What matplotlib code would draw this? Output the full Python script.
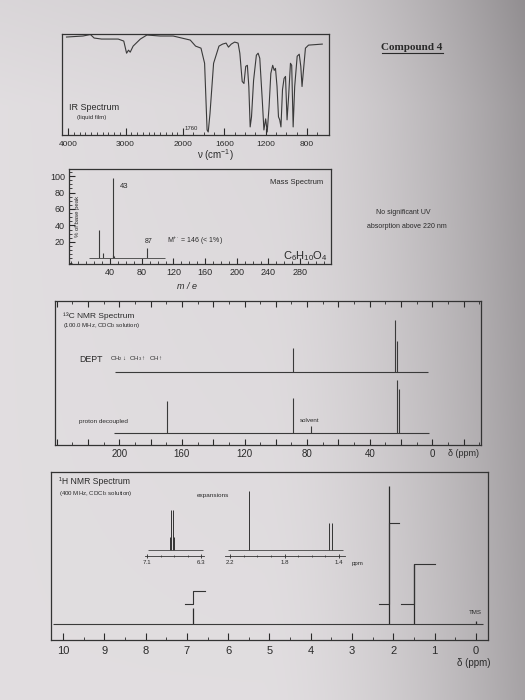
import numpy as np
import matplotlib
matplotlib.use('Agg')
import matplotlib.pyplot as plt
from matplotlib.ticker import MultipleLocator, FixedLocator, FuncFormatter
from matplotlib.lines import Line2D

plt.rcParams['font.family'] = ['Liberation Sans', 'DejaVu Sans']
plt.rcParams['mathtext.fontset'] = 'custom'
plt.rcParams['mathtext.rm'] = 'Liberation Sans'
plt.rcParams['mathtext.it'] = 'Liberation Sans:italic'
plt.rcParams['mathtext.bf'] = 'Liberation Sans:bold'

# ---------------- data ----------------
ir_wavenumber = [4030, 3742, 3613, 3548, 3419, 3129, 3032, 2983, 2949, 2920, 2869, 2743,
                 2629, 2400, 2171, 1930, 1878, 1826, 1791, 1767, 1756, 1739, 1704, 1652,
                 1617, 1583, 1560, 1533, 1500, 1467, 1450, 1427, 1410, 1393, 1377, 1363,
                 1350, 1337, 1317, 1290, 1273, 1257, 1233, 1217, 1200, 1185, 1167, 1150,
                 1132, 1117, 1105, 1090, 1076, 1064, 1052, 1037, 1022, 1008, 993, 978,
                 960, 948, 934, 919, 895, 875, 860, 848, 815, 785, 652]
ir_transmittance = [97, 98, 99.5, 96, 95, 95, 93, 81, 84, 82, 88, 95,
                    99, 98, 98, 94, 88, 86, 71, 5, 3, 21, 71, 88,
                    90, 91, 87, 90, 92, 91, 81, 53, 51, 68, 69, 48,
                    8, 18, 54, 79, 81, 76, 35, 5, 16, 3, 28, 61,
                    69, 64, 66, 48, 18, 15, 8, 45, 56, 58, 15, 38,
                    71, 69, 8, 48, 78, 80, 68, 48, 86, 89, 90]
ir_tick_values = [4000, 3000, 2000, 1600, 1200, 800]

ms_mz = [26, 31, 43, 44, 45, 87]
ms_intensity = [34, 7, 98, 4, 3, 13]
ms_baseline_range = [13, 109]
ms_ticks = [40, 80, 120, 160, 200, 240, 280]
ms_yticks = [20, 40, 60, 80, 100]

c13_decoupled_shift = [169.5, 89.0, 77.5, 22.6, 21.1]
c13_decoupled_height = [32, 35, 6.5, 53, 44]
c13_decoupled_range = [203.5, 2.0]
c13_dept_shift = [89.0, 23.8, 22.6]
c13_dept_height = [24, 52, 31]
c13_dept_range = [203.0, 3.0]

h1_shift = [6.85, 2.10, 1.50, 0.00]
h1_height = [16, 138, 60, 3]
h1_baseline_range = [10.25, -0.17]
h1_integral_H = [1, 6, 3]
h1_integral_shift = [6.85, 2.10, 1.50]
h1_integral_start = [7.05, 2.35, 1.82]
h1_integral_end = [6.56, 1.86, 0.99]

exp1_shift = [6.76, 6.74, 6.72, 6.70]
exp1_height = [13, 40, 40, 13]
exp1_range = [7.085, 6.27]
exp1_labels = [7.1, 6.3]
exp2_shift = [2.06, 1.47, 1.455]
exp2_height = [59, 27, 27]
exp2_range = [2.215, 1.37]
exp2_labels = [2.2, 1.8, 1.4]

# ---------------- figure ----------------
W, H = 525, 700
INK = '#2a2a2a'
fig = plt.figure(figsize=(W / 100, H / 100), dpi=100)

# paper background (photo shading)
bg = fig.add_axes([0, 0, 1, 1])
bg.axis('off')
gx, gy = np.meshgrid(np.linspace(0, 1, 210), np.linspace(0, 1, 280))
s = 0.875 - 0.23 * np.clip((gx - 0.5) / 0.5, 0, 1) ** 1.7 - 0.05 * (1 - gy) * gx \
    - 0.03 * np.clip((0.15 - gy) / 0.15, 0, 1)
rgb = np.dstack([s + 0.008, s - 0.006, s + 0.004]).clip(0, 1)
bg.imshow(rgb, extent=[0, 1, 0, 1], aspect='auto', origin='upper')
bg.set_xlim(0, 1)
bg.set_ylim(0, 1)


def px_axes(left, top, right, bottom):
    a = fig.add_axes([left / W, 1 - bottom / H, (right - left) / W, (bottom - top) / H])
    a.set_facecolor('none')
    for sp in a.spines.values():
        sp.set_color('#333333')
        sp.set_linewidth(0.9)
    return a


def ftext(x, y, s, **kw):
    kw.setdefault('color', INK)
    kw.setdefault('ha', 'left')
    kw.setdefault('va', 'center')
    return fig.text(x / W, 1 - y / H, s, **kw)


# ---------------- IR ----------------
def ir_fwd(w):
    w = np.asarray(w, dtype=float)
    return np.where(w >= 2000, 1000 + (w - 2000) / 1.8, w - 1000)


def ir_inv(u):
    u = np.asarray(u, dtype=float)
    return np.where(u >= 1000, 2000 + (u - 1000) * 1.8, u + 1000)


ax = px_axes(62, 34, 329, 135)
ax.set_xscale('function', functions=(ir_fwd, ir_inv))
ax.plot(ir_wavenumber, ir_transmittance, color='#3a3a3a', lw=0.8)
ax.set_xlim(4108, 587)
ax.set_ylim(0, 100)
ax.set_yticks([])
ax.xaxis.set_major_locator(FixedLocator(ir_tick_values))
ax.xaxis.set_minor_locator(FixedLocator(list(range(700, 4001, 100))))
ax.xaxis.set_major_formatter(FuncFormatter(lambda v, p: f'{v:.0f}'))
ax.tick_params(axis='x', which='major', direction='in', length=5, width=0.8,
               labelsize=6, pad=4, colors=INK)
ax.tick_params(axis='x', which='minor', direction='in', length=2.5, width=0.6, colors=INK)
ftext(69, 108, 'IR Spectrum', fontsize=6.5)
ftext(77, 117, '(liquid film)', fontsize=4.3)
ftext(185, 128, '1760', fontsize=4.3)
ftext(215, 155, 'ν (cm$^{-1}$)', fontsize=7, ha='center')

# Compound label
ftext(412, 47, 'Compound 4', family='Liberation Serif', weight='bold', fontsize=8, ha='center')
fig.add_artist(Line2D([382 / W, 443 / W], [1 - 53 / H, 1 - 53 / H], lw=0.8, color=INK))

# ---------------- Mass spectrum ----------------
ax2 = px_axes(69, 169, 331, 264)
ax2.vlines(ms_mz, 0, ms_intensity, color='#3a3a3a', lw=0.8)
ax2.hlines(0, ms_baseline_range[0], ms_baseline_range[1], color='#555555', lw=0.7)
ax2.set_xlim(-12, 319)
ax2.set_ylim(-6.7, 108.5)
ax2.xaxis.set_major_locator(FixedLocator(ms_ticks))
ax2.xaxis.set_minor_locator(MultipleLocator(10))
ax2.yaxis.set_major_locator(FixedLocator(ms_yticks))
ax2.yaxis.set_minor_locator(MultipleLocator(5))
ax2.tick_params(which='major', direction='in', length=4, width=0.8, labelsize=6.5, pad=3, colors=INK)
ax2.tick_params(which='minor', direction='in', length=2, width=0.6, colors=INK)
ax2.text(0.034, 0.5, '% of base peak', rotation=90, fontsize=4.3, color=INK,
         transform=ax2.transAxes, ha='center', va='center')
ftext(120, 186, '43', fontsize=5.5)
ftext(145, 242, '87', fontsize=5)
ftext(167, 241, 'M$^{+\\cdot}$ = 146 (< 1%)', fontsize=5)
ftext(323, 183, 'Mass Spectrum', fontsize=5.5, ha='right')
ftext(305, 256, 'C$_6$H$_{10}$O$_4$', fontsize=8, ha='center')
ftext(187, 287, 'm / e', fontsize=6.5, ha='center', style='italic')
ftext(403, 213, 'No significant UV', fontsize=5, ha='center')
ftext(407, 227, 'absorption above 220 nm', fontsize=5, ha='center')

# ---------------- 13C NMR ----------------
DEPT_OFFSET = 61
ax3 = px_axes(55, 301, 481, 445)
ax3.vlines(c13_decoupled_shift, 0, c13_decoupled_height, color='#3a3a3a', lw=0.8)
ax3.hlines(0, c13_decoupled_range[0], c13_decoupled_range[1], color='#3a3a3a', lw=0.8)
ax3.vlines(c13_dept_shift, DEPT_OFFSET, np.add(c13_dept_height, DEPT_OFFSET), color='#3a3a3a', lw=0.8)
ax3.hlines(DEPT_OFFSET, c13_dept_range[0], c13_dept_range[1], color='#3a3a3a', lw=0.8)
ax3.set_xlim(241, -31)
ax3.set_ylim(-12, 132)
ax3.set_yticks([])
ax3.xaxis.set_major_locator(MultipleLocator(20))
ax3.xaxis.set_minor_locator(MultipleLocator(10))
ax3.xaxis.set_major_formatter(FuncFormatter(
    lambda v, p: f'{v:.0f}' if (round(v) % 40 == 0 and -1 < v < 210) else ''))
ax3.tick_params(axis='x', which='major', direction='in', length=4, width=0.8,
                labelsize=7, pad=3, top=True, colors=INK)
ax3.tick_params(axis='x', which='minor', direction='in', length=2, width=0.6, top=True, colors=INK)
ftext(63, 316, '¹³C NMR Spectrum', fontsize=6)
ftext(63, 326, '(100.0 MHz, CDCl$_3$ solution)', fontsize=4.3)
ftext(79, 360, 'DEPT', fontsize=6.3)
ftext(110, 359, r'CH$_2\downarrow$  CH$_3\uparrow$  CH$\uparrow$', fontsize=4.3)
ftext(79, 421, 'proton decoupled', fontsize=4.6)
ftext(310, 420, 'solvent', fontsize=4.4, ha='center')
ftext(448, 454, 'δ (ppm)', fontsize=6.5)

# ---------------- 1H NMR ----------------
INT_BASE = 20
INT_PER_H = 13.5
ax4 = px_axes(51, 472, 488, 640)
ax4.vlines(h1_shift, 0, h1_height, color='#2a2a2a', lw=0.9)
ax4.hlines(0, h1_baseline_range[0], h1_baseline_range[1], color='#3a3a3a', lw=0.8)
for a0, sh, b0, nH in zip(h1_integral_start, h1_integral_shift, h1_integral_end, h1_integral_H):
    top = INT_BASE + nH * INT_PER_H
    ax4.plot([a0, sh, sh, b0], [INT_BASE, INT_BASE, top, top], color='#333333', lw=0.8)
ax4.set_xlim(10.29, -0.29)
ax4.set_ylim(-16, 152)
ax4.set_yticks([])
ax4.xaxis.set_major_locator(MultipleLocator(1))
ax4.xaxis.set_minor_locator(MultipleLocator(0.5))
ax4.xaxis.set_major_formatter(FuncFormatter(lambda v, p: f'{v:.0f}'))
ax4.tick_params(axis='x', which='major', direction='in', length=5, width=0.8,
                labelsize=8, pad=4, colors=INK)
ax4.tick_params(axis='x', which='minor', direction='in', length=2.5, width=0.6, colors=INK)
ftext(59, 482, '¹H NMR Spectrum', fontsize=6.2)
ftext(59, 493, '(400 MHz, CDCl$_3$ solution)', fontsize=4.4)
ftext(213, 495, 'expansions', fontsize=4.6, ha='center')
ftext(475, 612, 'TMS', fontsize=4.4, ha='center')
ftext(474, 663, 'δ (ppm)', fontsize=7, ha='center')
ftext(352, 564, 'ppm', fontsize=4.4)


def inset(left, right, xlim, shifts, heights, rng, major, minor):
    a = px_axes(left, 486, right, 556)
    for k in ('top', 'left', 'right'):
        a.spines[k].set_visible(False)
    a.spines['bottom'].set_linewidth(0.6)
    a.vlines(shifts, 0, heights, color='#333333', lw=0.7)
    a.hlines(0, rng[0], rng[1], color='#444444', lw=0.6)
    a.set_xlim(*xlim)
    a.set_ylim(-6, 64)
    a.set_yticks([])
    a.xaxis.set_major_locator(FixedLocator(major))
    a.xaxis.set_minor_locator(FixedLocator(minor))
    a.xaxis.set_major_formatter(FuncFormatter(lambda v, p: f'{v:.1f}'))
    a.tick_params(axis='x', which='major', direction='inout', length=3, width=0.6,
                  labelsize=4.4, pad=1.5, colors=INK)
    a.tick_params(axis='x', which='minor', direction='inout', length=2, width=0.5, colors=INK)
    return a


inset(145, 204, (7.13, 6.256), exp1_shift, exp1_height, exp1_range,
      exp1_labels, [6.9, 6.7, 6.5])
inset(225, 345, (2.237, 1.356), exp2_shift, exp2_height, exp2_range,
      exp2_labels, [2.1, 2.0, 1.9, 1.7, 1.6, 1.5])

fig.savefig('out.png', dpi=100)
